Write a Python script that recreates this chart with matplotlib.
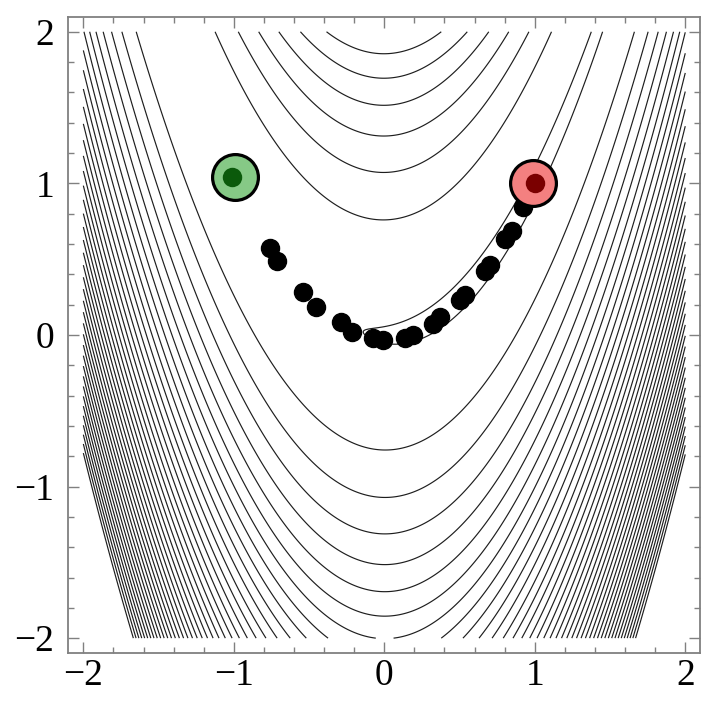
import numpy as np
import matplotlib
matplotlib.use("Agg")
import matplotlib.pyplot as plt
from matplotlib.ticker import MultipleLocator

# Rosenbrock surface and contour levels
level_start = 1.3
level_step = 57.3
level_count = 41

# Descent path (x, y) from the start point to the minimum
path_x = [-0.760, -0.712, -0.543, -0.456, -0.290, -0.217, -0.074, -0.007,
          0.137, 0.192, 0.325, 0.369, 0.504, 0.536, 0.670, 0.703, 0.801,
          0.846, 0.921]
path_y = [0.576, 0.488, 0.286, 0.187, 0.088, 0.022, -0.018, -0.032,
          -0.022, 0.000, 0.073, 0.117, 0.232, 0.265, 0.420, 0.464, 0.633,
          0.688, 0.843]

start_x, start_y = -0.99, 1.04
end_x, end_y = 0.99, 1.0
start_inner = (-1.01, 1.04)
end_inner = (1.0, 1.0)

tick_values = [-2, -1, 0, 1, 2]

plt.rcParams["font.family"] = ["Liberation Serif", "DejaVu Serif"]

fig = plt.figure(figsize=(7.03, 7.02), dpi=100)
ax = fig.add_axes([68.3 / 703, 48.7 / 702, 632 / 703, 636.7 / 702])

gx = np.linspace(-2, 2, 801)
gy = np.linspace(-2, 2, 801)
X, Y = np.meshgrid(gx, gy)
Z = (1 - X) ** 2 + 100 * (Y - X ** 2) ** 2
levels = level_start + level_step * np.arange(level_count)
ax.contour(X, Y, Z, levels=levels, colors="#1e1e1e", linewidths=0.85)

ax.plot(path_x, path_y, "o", ms=13, color="black", lw=0)

ax.plot(start_x, start_y, "o", ms=33, mfc="#86c986", mec="black", mew=2.3)
ax.plot(*start_inner, "o", ms=14, color="#0b5a0b", mew=0)
ax.plot(end_x, end_y, "o", ms=33, mfc="#f48080", mec="black", mew=2.3)
ax.plot(*end_inner, "o", ms=14, color="#7a0000", mew=0)

ax.set_xlim(-2.1, 2.1)
ax.set_ylim(-2.1, 2.1)
ax.set_xticks(tick_values)
ax.set_yticks(tick_values)
ax.xaxis.set_minor_locator(MultipleLocator(0.2))
ax.yaxis.set_minor_locator(MultipleLocator(0.2))
ax.tick_params(which="both", direction="in", top=True, right=True,
               color="#808080", width=1.0)
ax.tick_params(which="major", length=8, labelsize=27, pad=4)
ax.tick_params(axis="y", which="major", pad=10)
ax.tick_params(which="minor", length=4)
ax.tick_params(labeltop=False, labelright=False)
for s in ax.spines.values():
    s.set_color("#808080")
    s.set_linewidth(1.3)

fig.savefig("out.png", dpi=100)
